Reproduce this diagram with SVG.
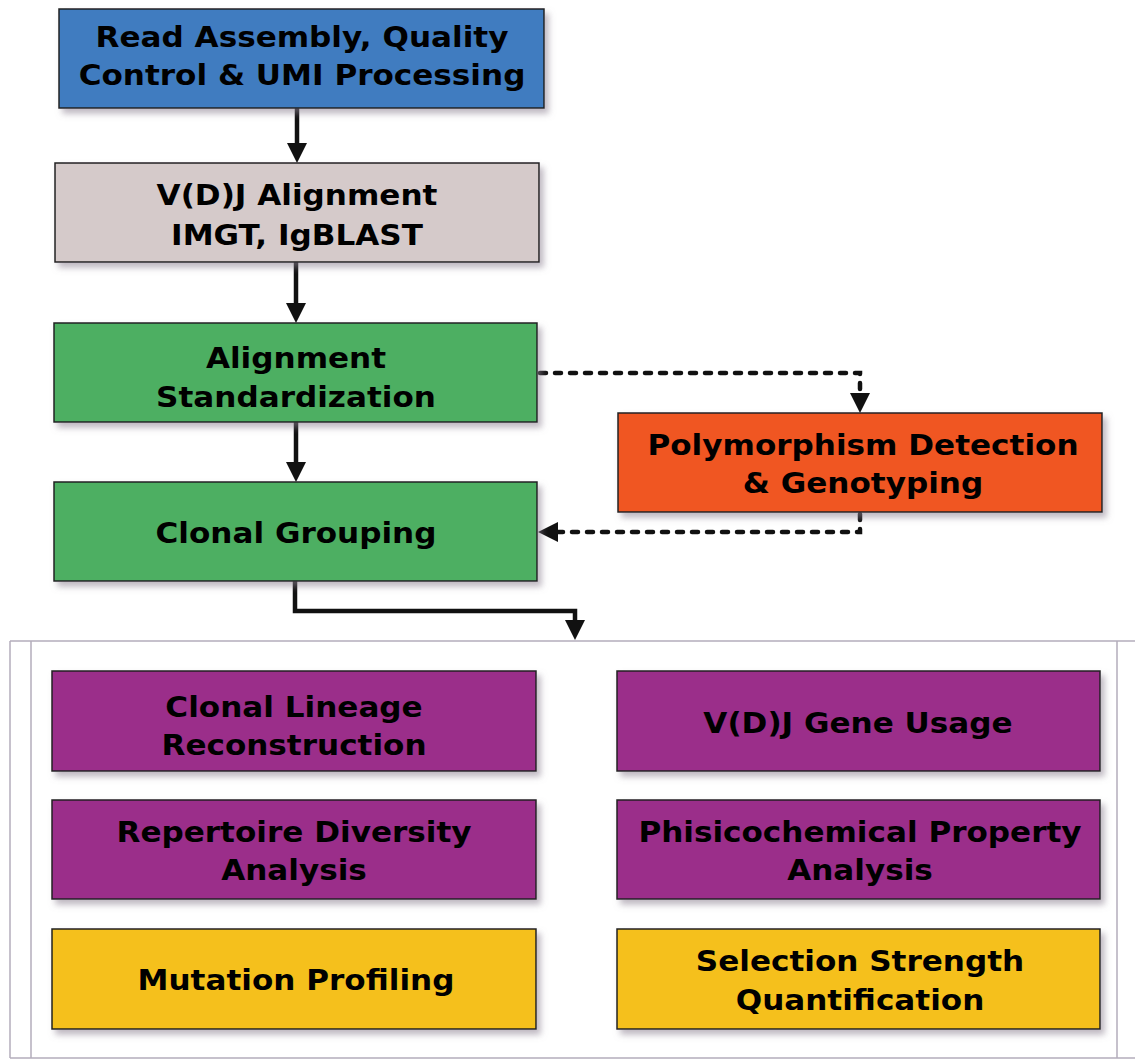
<svg xmlns="http://www.w3.org/2000/svg" width="1135" height="1059" viewBox="0 0 1135 1059">
  <defs>
    <style>
      .box { stroke: #222; stroke-width: 1.5; filter: url(#shadow); }
      .blue { fill: #3f7cc0; }
      .grey { fill: #d5caca; }
      .green { fill: #4daf62; }
      .orange { fill: #f05623; }
      .purple { fill: #9b2f8a; }
      .yellow { fill: #f5c01a; }
      .lbl { font-family: "DejaVu Sans", "Liberation Sans", sans-serif; font-weight: bold; font-size: 28px; fill: #000; text-anchor: middle; }
      .flow { fill: none; stroke: #111; stroke-width: 4.5; }
      .dash { fill: none; stroke: #111; stroke-width: 4.5; stroke-dasharray: 6 9; stroke-linecap: round; }
      .frame { fill: none; stroke: #b3adbb; stroke-width: 1.5; }
    </style>
    <filter id="shadow" x="-5%" y="-10%" width="115%" height="130%">
      <feDropShadow dx="4" dy="5" stdDeviation="3" flood-color="#8a8090" flood-opacity="0.55"/>
    </filter>
    <marker id="head" viewBox="0 0 20 20" refX="8" refY="10" markerWidth="20" markerHeight="20" markerUnits="userSpaceOnUse" orient="auto">
      <path d="M0,0 L20,10 L0,20 Z" fill="#111"/>
    </marker>
  </defs>

  <rect width="1135" height="1059" fill="#fff"/>

  <!-- container for the downstream analyses -->
  <g id="analysis-frame" class="frame">
    <line x1="10" y1="641" x2="1135" y2="641"/>
    <line x1="10" y1="1058" x2="1135" y2="1058"/>
    <line x1="10" y1="641" x2="10" y2="1058"/>
    <line x1="31" y1="641" x2="31" y2="1058"/>
    <line x1="1117" y1="641" x2="1117" y2="1058"/>
  </g>

  <!-- connectors -->
  <g id="connectors">
    <path class="flow" d="M297,108 V151" marker-end="url(#head)"/>
    <path class="flow" d="M296,262 V311" marker-end="url(#head)"/>
    <path class="flow" d="M296,422 V470" marker-end="url(#head)"/>
    <path class="flow" d="M295,581 V611 H575 V628" marker-end="url(#head)"/>
    <path class="dash" d="M540,373 H860 V401" marker-end="url(#head)"/>
    <path class="dash" d="M860,514 V532 H550" marker-end="url(#head)"/>
  </g>

  <g id="read-assembly">
    <rect class="box blue" x="59" y="9" width="485" height="99"/>
    <text class="lbl" transform="translate(302 47) scale(1.11 1)">Read Assembly, Quality</text>
    <text class="lbl" transform="translate(302 85) scale(1.11 1)">Control &amp; UMI Processing</text>
  </g>

  <g id="vdj-alignment">
    <rect class="box grey" x="55" y="163" width="484" height="99"/>
    <text class="lbl" transform="translate(297 205) scale(1.11 1)">V(D)J Alignment</text>
    <text class="lbl" transform="translate(297 245) scale(1.11 1)">IMGT, IgBLAST</text>
  </g>

  <g id="alignment-standardization">
    <rect class="box green" x="54" y="323" width="483" height="99"/>
    <text class="lbl" transform="translate(296 368) scale(1.11 1)">Alignment</text>
    <text class="lbl" transform="translate(296 407) scale(1.11 1)">Standardization</text>
  </g>

  <g id="clonal-grouping">
    <rect class="box green" x="54" y="482" width="483" height="99"/>
    <text class="lbl" transform="translate(296 543) scale(1.11 1)">Clonal Grouping</text>
  </g>

  <g id="polymorphism-detection">
    <rect class="box orange" x="618" y="413" width="484" height="99"/>
    <text class="lbl" transform="translate(863 455) scale(1.11 1)">Polymorphism Detection</text>
    <text class="lbl" transform="translate(863 493) scale(1.11 1)">&amp; Genotyping</text>
  </g>

  <g id="clonal-lineage">
    <rect class="box purple" x="52" y="671" width="484" height="100"/>
    <text class="lbl" transform="translate(294 717) scale(1.11 1)">Clonal Lineage</text>
    <text class="lbl" transform="translate(294 755) scale(1.11 1)">Reconstruction</text>
  </g>

  <g id="gene-usage">
    <rect class="box purple" x="617" y="671" width="483" height="100"/>
    <text class="lbl" transform="translate(858 733) scale(1.11 1)">V(D)J Gene Usage</text>
  </g>

  <g id="repertoire-diversity">
    <rect class="box purple" x="52" y="800" width="484" height="99"/>
    <text class="lbl" transform="translate(294 842) scale(1.11 1)">Repertoire Diversity</text>
    <text class="lbl" transform="translate(294 880) scale(1.11 1)">Analysis</text>
  </g>

  <g id="physicochemical-property">
    <rect class="box purple" x="617" y="800" width="483" height="99"/>
    <text class="lbl" transform="translate(860 842) scale(1.11 1)">Phisicochemical Property</text>
    <text class="lbl" transform="translate(860 880) scale(1.11 1)">Analysis</text>
  </g>

  <g id="mutation-profiling">
    <rect class="box yellow" x="52" y="929" width="484" height="100"/>
    <text class="lbl" transform="translate(296 990) scale(1.11 1)">Mutation Profiling</text>
  </g>

  <g id="selection-strength">
    <rect class="box yellow" x="617" y="929" width="483" height="100"/>
    <text class="lbl" transform="translate(860 971) scale(1.11 1)">Selection Strength</text>
    <text class="lbl" transform="translate(860 1010) scale(1.11 1)">Quantification</text>
  </g>
</svg>
